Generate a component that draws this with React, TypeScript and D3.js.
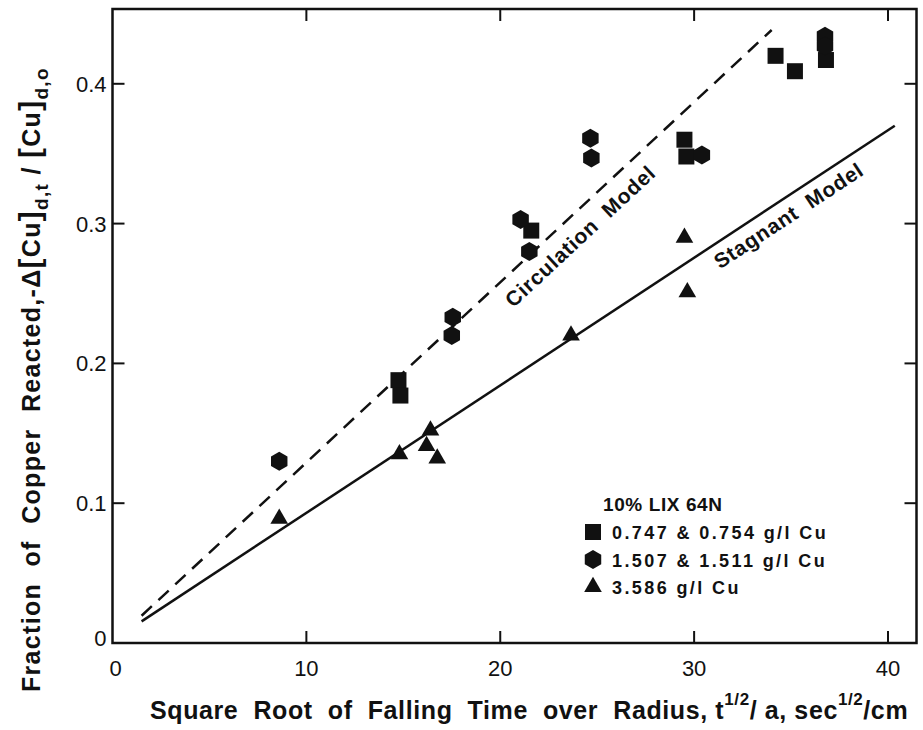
import { useEffect, useRef } from "react";
import * as d3 from "d3";

// 0.747 & 0.754 g/l Cu
const squareX = [14.75, 14.85, 21.6, 29.5, 29.6, 34.2, 35.2, 36.8];
const squareY = [0.188, 0.177, 0.295, 0.36, 0.348, 0.42, 0.409, 0.417];
// 1.507 & 1.511 g/l Cu
const hexX = [8.6, 17.55, 17.5, 21.05, 21.5, 24.65, 24.7, 30.4, 36.75, 36.75];
const hexY = [0.13, 0.233, 0.22, 0.303, 0.28, 0.361, 0.347, 0.349, 0.434, 0.427];
// 3.586 g/l Cu
const triX = [8.6, 14.8, 16.2, 16.4, 16.75, 23.65, 29.5, 29.65];
const triY = [0.089, 0.135, 0.141, 0.152, 0.132, 0.22, 0.29, 0.251];

// model lines (end points)
const circX = [1.5, 34.0];
const circY = [0.0195, 0.4385];
const stagX = [1.5, 40.35];
const stagY = [0.0155, 0.37];

const xTicks = [0, 10, 20, 30, 40];
const yTicks = [0.1, 0.2, 0.3, 0.4];

const legendTitle = "10% LIX 64N";
const legendLabels = ["0.747 & 0.754 g/l Cu", "1.507 & 1.511 g/l Cu", "3.586 g/l Cu"];

const FONT = "'Liberation Sans', Arial, sans-serif";

const hexPath = (r: number) => {
  const p = d3.path();
  for (let k = 0; k < 6; k++) {
    const a = Math.PI / 2 + (k * Math.PI) / 3;
    const px = r * Math.cos(a);
    const py = r * Math.sin(a);
    if (k === 0) p.moveTo(px, py);
    else p.lineTo(px, py);
  }
  p.closePath();
  return p.toString();
};

const App = () => {
  const svgRef = useRef<SVGSVGElement>(null);

  useEffect(() => {
    document.body.style.margin = "0";
    const svg = d3.select(svgRef.current);
    svg.selectAll("*").remove();

    const x = d3.scaleLinear().domain([0, 41.47]).range([112.5, 916.5]);
    const y = d3.scaleLinear().domain([0, 0.4535]).range([643, 9]);
    const [x0, x1] = x.range();
    const [y0, y1] = y.range();

    const g = svg.append("g").attr("font-family", FONT).attr("fill", "#111");

    // frame
    g.append("rect")
      .attr("x", x0)
      .attr("y", y1)
      .attr("width", x1 - x0)
      .attr("height", y0 - y1)
      .attr("fill", "none")
      .attr("stroke", "#111")
      .attr("stroke-width", 2.5);

    // inward ticks on all sides
    const tk = 12;
    xTicks.slice(1).forEach((t) => {
      g.append("line").attr("x1", x(t)).attr("x2", x(t)).attr("y1", y0).attr("y2", y0 - tk)
        .attr("stroke", "#111").attr("stroke-width", 2);
      g.append("line").attr("x1", x(t)).attr("x2", x(t)).attr("y1", y1).attr("y2", y1 + tk)
        .attr("stroke", "#111").attr("stroke-width", 2);
    });
    yTicks.forEach((t) => {
      g.append("line").attr("x1", x0).attr("x2", x0 + tk).attr("y1", y(t)).attr("y2", y(t))
        .attr("stroke", "#111").attr("stroke-width", 2);
      g.append("line").attr("x1", x1).attr("x2", x1 - tk).attr("y1", y(t)).attr("y2", y(t))
        .attr("stroke", "#111").attr("stroke-width", 2);
    });

    // tick labels
    g.selectAll("text.xt")
      .data(xTicks)
      .enter()
      .append("text")
      .attr("class", "xt")
      .attr("x", (d) => x(d) + (d === 0 ? 3 : 0))
      .attr("y", y0 + 33)
      .attr("text-anchor", "middle")
      .attr("font-size", 22)
      .text((d) => d);

    g.selectAll("text.yt")
      .data(yTicks)
      .enter()
      .append("text")
      .attr("class", "yt")
      .attr("x", x0 - 6)
      .attr("y", (d) => y(d) + 8)
      .attr("text-anchor", "end")
      .attr("font-size", 22)
      .text((d) => d.toFixed(1));

    g.append("text")
      .attr("x", x0 - 6)
      .attr("y", y(0) + 3)
      .attr("text-anchor", "end")
      .attr("font-size", 22)
      .text("0");

    // model lines
    const drawLine = (xs: number[], ys: number[], dash: string | null) => {
      const path = d3
        .line<number>()
        .x((d) => x(d))
        .y((_, i) => y(ys[i]));
      const p = g.append("path")
        .attr("d", path(xs))
        .attr("fill", "none")
        .attr("stroke", "#111")
        .attr("stroke-width", 2.5);
      if (dash) p.attr("stroke-dasharray", dash);
    };
    drawLine(circX, circY, "14,9");
    drawLine(stagX, stagY, null);

    // line labels
    const angle = (xs: number[], ys: number[]) =>
      (Math.atan2(y(ys[1]) - y(ys[0]), x(xs[1]) - x(xs[0])) * 180) / Math.PI;
    const at = (xs: number[], ys: number[], xv: number) =>
      ys[0] + ((ys[1] - ys[0]) * (xv - xs[0])) / (xs[1] - xs[0]);

    const cx = 23.4;
    g.append("text")
      .attr("transform", `translate(${x(cx)},${y(at(circX, circY, cx))}) rotate(${angle(circX, circY)}) translate(0,28)`)
      .attr("text-anchor", "middle")
      .attr("font-size", 21)
      .attr("font-weight", "bold")
      .attr("letter-spacing", 0.8)
      .style("white-space", "pre")
      .text("Circulation  Model");

    const sx = 34.4;
    g.append("text")
      .attr("transform", `translate(${x(sx)},${y(at(stagX, stagY, sx))}) rotate(${angle(stagX, stagY)}) translate(0,24)`)
      .attr("text-anchor", "middle")
      .attr("font-size", 21)
      .attr("font-weight", "bold")
      .attr("letter-spacing", 0.8)
      .style("white-space", "pre")
      .text("Stagnant  Model");

    // markers
    const sq = d3.symbol().type(d3.symbolSquare).size(256)();
    const tri = d3.symbol().type(d3.symbolTriangle).size(135)();
    const hex = hexPath(9.5);

    const drawMarks = (xs: number[], ys: number[], d: string | null, cls: string) => {
      g.selectAll(`path.${cls}`)
        .data(xs)
        .enter()
        .append("path")
        .attr("class", cls)
        .attr("d", d)
        .attr("transform", (v, i) => `translate(${x(v)},${y(ys[i])})`)
        .attr("fill", "#111");
    };
    drawMarks(squareX, squareY, sq, "sq");
    drawMarks(hexX, hexY, hex, "hx");
    drawMarks(triX, triY, tri, "tr");

    // legend
    const lx = 593;
    const ly = 532;
    const dy = 27.5;
    g.append("text")
      .attr("x", 603)
      .attr("y", ly - 21)
      .attr("font-size", 19)
      .attr("font-weight", "bold")
      .attr("letter-spacing", 0.6)
      .text(legendTitle);
    const legendSyms = [sq, hex, tri];
    legendLabels.forEach((lab, i) => {
      g.append("path")
        .attr("d", legendSyms[i])
        .attr("transform", `translate(${lx},${ly + i * dy})`)
        .attr("fill", "#111");
      g.append("text")
        .attr("x", 612)
        .attr("y", ly + i * dy + 7)
        .attr("font-size", 18)
        .attr("font-weight", "bold")
        .attr("letter-spacing", 2.4)
        .style("white-space", "pre")
        .text(lab);
    });

    // x title
    const xt = g.append("text")
      .attr("x", 150)
      .attr("y", 719)
      .attr("font-size", 25)
      .attr("font-weight", "bold")
      .attr("letter-spacing", 0.6)
      .style("white-space", "pre");
    xt.append("tspan").text("Square  Root  of  Falling  Time  over  Radius, t");
    xt.append("tspan").attr("font-size", 17).attr("dy", -14).text("1/2");
    xt.append("tspan").attr("dy", 14).text("/ a, sec");
    xt.append("tspan").attr("font-size", 17).attr("dy", -14).text("1/2");
    xt.append("tspan").attr("dy", 14).text("/cm");

    // y title
    const yt = g.append("text")
      .attr("transform", `translate(40,692) rotate(-90)`)
      .attr("font-size", 25)
      .attr("font-weight", "bold")
      .attr("letter-spacing", 1.3)
      .style("white-space", "pre");
    yt.append("tspan").text("Fraction  of  Copper  Reacted,-Δ");
    yt.append("tspan").attr("font-size", 30).text("[");
    yt.append("tspan").text("Cu");
    yt.append("tspan").attr("font-size", 30).text("]");
    yt.append("tspan").attr("font-size", 19).attr("dy", 8).text("d,t");
    yt.append("tspan").attr("dy", -8).text(" / ");
    yt.append("tspan").attr("font-size", 30).text("[");
    yt.append("tspan").text("Cu");
    yt.append("tspan").attr("font-size", 30).text("]");
    yt.append("tspan").attr("font-size", 19).attr("dy", 8).text("d,o");
  }, []);

  return <svg ref={svgRef} width={923} height={730}></svg>;
};

export default App;
